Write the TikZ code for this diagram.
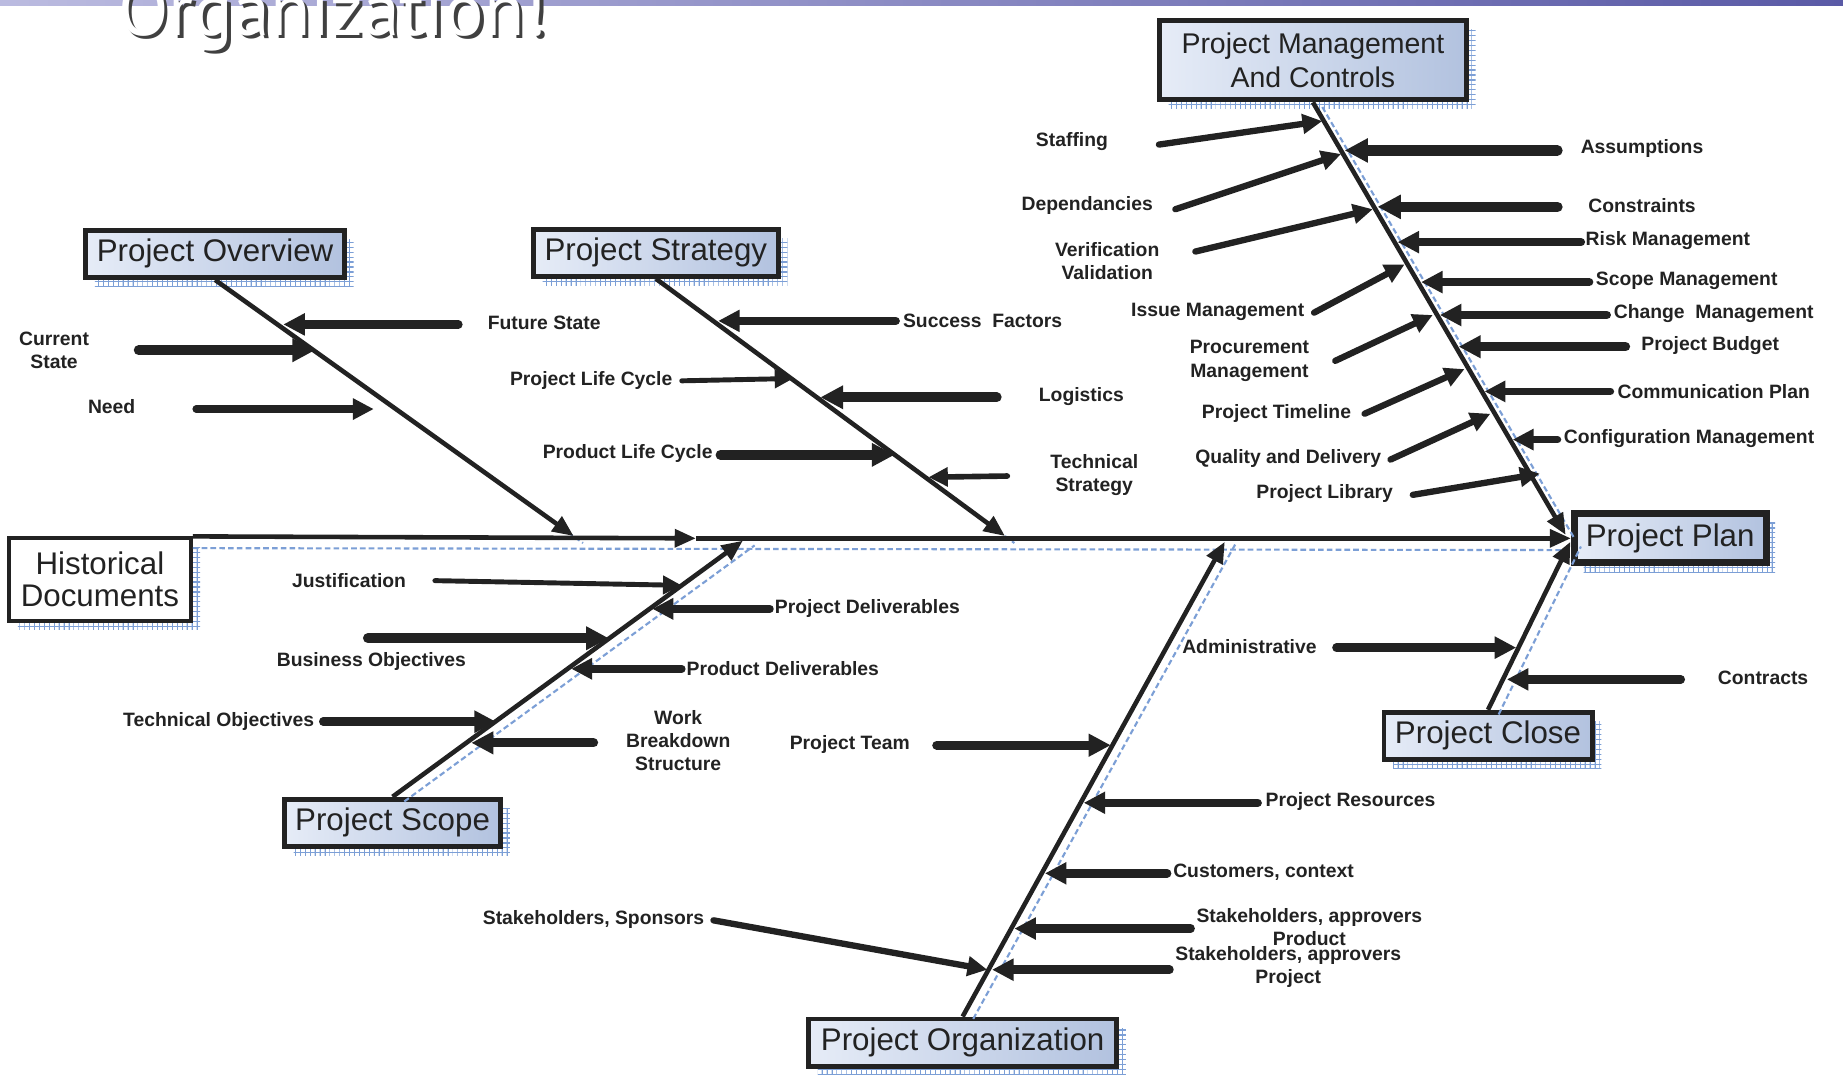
\documentclass[tikz,border=0pt]{standalone}
\usepackage{fontspec}
\setmainfont{Liberation Sans}
\newfontfamily\titlefont{PT Sans}
\usetikzlibrary{arrows.meta,shadows,patterns}

% fine blue grid used for the offset shadows of the category boxes
\pgfdeclarepatternformonly{finegrid}{\pgfqpoint{-0.1pt}{-0.1pt}}{\pgfqpoint{1.5pt}{1.5pt}}{\pgfqpoint{1.4pt}{1.4pt}}{%
  \pgfsetlinewidth{0.35pt}%
  \pgfpathmoveto{\pgfqpoint{0pt}{0pt}}\pgfpathlineto{\pgfqpoint{1.4pt}{0pt}}%
  \pgfpathmoveto{\pgfqpoint{0pt}{0pt}}\pgfpathlineto{\pgfqpoint{0pt}{1.4pt}}%
  \pgfusepath{stroke}}

\definecolor{ink}{HTML}{222222}
\definecolor{boxlight}{HTML}{E6ECF7}
\definecolor{boxdark}{HTML}{B2C2DF}
\definecolor{shadowblue}{HTML}{7C9FD6}
\definecolor{barleft}{HTML}{BBBBE0}
\definecolor{barright}{HTML}{5A5AA6}

% one small cause arrow: tail coordinate, tip coordinate, line width
\newcommand\causearrow[4]{%
  \coordinate (#1a) at (#2);
  \coordinate (#1b) at (#3);
  \draw[arr, line width=#4] (#1a) -- (#1b);}

\tikzset{
  catbase/.style={draw=ink, line width=1.4pt, text=ink, inner sep=0pt, align=center,
    font=\fontsize{8.9pt}{9.4pt}\selectfont,
    drop shadow={shadow xshift=2.6pt, shadow yshift=-2.6pt, pattern=finegrid,
      pattern color=shadowblue, opacity=1}},
  cat/.style={catbase, left color=boxlight, right color=boxdark},
  bone/.style={draw=ink, line width=1.3pt, -{Triangle[length=6pt,width=5pt]}},
  boneshadow/.style={draw=shadowblue, line width=0.6pt, dash pattern=on 1.6pt off 0.9pt},
  arr/.style={draw=ink, line cap=round, -{Triangle[length=4.2pt 0.8, width=3.8pt 0.9]}},
  lbl/.style={text=ink, inner sep=0pt, align=center,
    font=\fontsize{5.5pt}{6.6pt}\selectfont\bfseries},
}

\begin{document}
\begin{tikzpicture}[x=0.011754cm, y=-0.011754cm]
\useasboundingbox (0,0) rectangle (1568,914);
\clip (0,0) rectangle (1568,914);
\fill[white] (0,0) rectangle (1568,914);

% heading strip and the tail of the slide title
\fill[left color=barleft, right color=barright] (0,0) rectangle (1568,5);
\node[anchor=base west, inner sep=0pt, text=black!75,
  font=\titlefont\fontsize{21pt}{21pt}\selectfont] (titleshade) at (103,33) {Organization!};
\node[anchor=base west, inner sep=0pt, text=white,
  font=\titlefont\fontsize{21pt}{21pt}\selectfont] (title) at (100,30) {Organization!};

% category boxes
\node[catbase, fill=white, line width=1.1pt, minimum width=51.8pt, minimum height=23.4pt,
  font=\fontsize{8.9pt}{9.2pt}\selectfont] (hist) at (85,493) {Historical\\Documents};
\node[cat, minimum width=73.6pt, minimum height=13.4pt] (ov) at (183,216) {Project Overview};
\node[cat, minimum width=69.6pt, minimum height=13.4pt] (st) at (558,215) {Project Strategy};
\node[cat, minimum width=87.3pt, minimum height=22.7pt,
  font=\fontsize{8.1pt}{9.7pt}\selectfont] (mg) at (1117,51) {Project Management\\And Controls};
\node[cat, line width=2pt, minimum width=54.5pt, minimum height=14pt] (plan) at (1421,458) {Project Plan};
\node[cat, minimum width=61.5pt, minimum height=13.4pt] (sc) at (334,700) {Project Scope};
\node[cat, minimum width=87.6pt, minimum height=13.4pt] (org) at (819,887) {Project Organization};
\node[cat, minimum width=59.2pt, minimum height=13.4pt] (cl) at (1266,626) {Project Close};

% bone end points
\coordinate (sp1) at (592,458);
\coordinate (ovT) at (488,456);
\coordinate (stT) at (855,456);
\coordinate (scT) at (632,460);
\coordinate (orgT) at (1042,461);
\coordinate (mgT) at (1332,455);
\coordinate (clT) at (1336,461);

% faint blue shadows of the bones
\draw[boneshadow] ([shift={(0,10)}]hist.north east) -- ([shift={(-4,10)}]plan.west);
\draw[boneshadow] ([shift={(8,6)}]ov.south) -- ([shift={(8,6)}]ovT);
\draw[boneshadow] ([shift={(8,6)}]st.south) -- ([shift={(8,6)}]stT);
\draw[boneshadow] ([shift={(10,4)}]sc.north) -- ([shift={(10,4)}]scT);
\draw[boneshadow] ([shift={(9,2)}]org.north) -- ([shift={(9,2)}]orgT);
\draw[boneshadow] ([shift={(8,4)}]mg.south) -- ([shift={(8,4)}]mgT);
\draw[boneshadow] ([shift={(9,4)}]cl.north) -- ([shift={(9,4)}]clT);

% spine and main bones
\draw[bone] (hist.north east) -- (sp1);
\draw[bone] (sp1) -- (plan.west);
\draw[bone] (ov.south) -- (ovT);
\draw[bone] (st.south) -- (stT);
\draw[bone] (sc.north) -- (scT);
\draw[bone] (org.north) -- (orgT);
\draw[bone] (mg.south) -- (mgT);
\draw[bone] (cl.north) -- (clT);

% Project Overview
\node[lbl] (lfs) at (463,275) {Future State};
\node[lbl] (lcs) at (46,298) {Current\\State};
\node[lbl] (lnd) at (95,346) {Need};
\causearrow{fs}{390,276}{241,276}{2.4pt}
\causearrow{cs}{118,298}{268,298}{2.8pt}
\causearrow{nd}{167,348}{318,348}{2.2pt}

% Project Strategy
\node[lbl] (lsf) at (836,273) {Success~~Factors};
\node[lbl] (lplc) at (503,324) {Project Life Cycle};
\node[lbl] (llg) at (920,337) {Logistics};
\node[lbl] (lprlc) at (534,386) {Product Life Cycle};
\node[lbl] (lts) at (931,404) {Technical\\Strategy};
\causearrow{sf}{762,273}{611,273}{2.4pt}
\causearrow{plc}{580,324}{675,322}{1.4pt}
\causearrow{lg}{848,338}{698,338}{2.8pt}
\causearrow{prlc}{613,387}{761,387}{2.8pt}
\causearrow{ts}{857,405}{790,406}{1.6pt}

% Project Scope
\node[lbl] (ljs) at (297,494) {Justification};
\node[lbl] (lpd) at (738,518) {Project Deliverables};
\node[lbl] (lbo) at (316,563) {Business Objectives};
\node[lbl] (lprd) at (666,569) {Product Deliverables};
\node[lbl] (lto) at (186,614) {Technical Objectives};
\node[lbl] (lwbs) at (577,630) {Work\\Breakdown\\Structure};
\causearrow{js}{370,494}{580,498}{1.4pt}
\causearrow{pd}{655,518}{555,518}{2.2pt}
\causearrow{bo}{313,543}{518,543}{2.8pt}
\causearrow{prd}{580,569}{486,569}{2.2pt}
\causearrow{to}{275,614}{422,614}{2.4pt}
\causearrow{wbs}{505,632}{401,632}{2.6pt}

% Project Organization
\node[lbl] (ltm) at (723,633) {Project Team};
\node[lbl] (lres) at (1149,682) {Project Resources};
\node[lbl] (lcus) at (1075,742) {Customers, context};
\node[lbl] (lsap) at (1114,789) {Stakeholders, approvers\\Product};
\node[lbl] (lsaj) at (1096,823) {Stakeholders, approvers\\Project};
\node[lbl] (lsps) at (505,782) {Stakeholders, Sponsors};
\causearrow{tm}{797,634}{945,634}{2.6pt}
\causearrow{res}{1070,683}{922,683}{2.4pt}
\causearrow{cus}{993,743}{889,743}{2.4pt}
\causearrow{sap}{1013,790}{863,790}{2.4pt}
\causearrow{saj}{995,825}{844,825}{2.4pt}
\causearrow{sps}{607,783}{840,825}{1.8pt}

% Project Management And Controls, left side
\node[lbl] (lstf) at (912,120) {Staffing};
\node[lbl] (ldep) at (925,175) {Dependancies};
\node[lbl] (lver) at (942,222) {Verification\\Validation};
\node[lbl] (liss) at (1036,265) {Issue Management};
\node[lbl] (lpro) at (1063,307) {Procurement\\Management};
\node[lbl] (ltim) at (1086,352) {Project Timeline};
\node[lbl] (lqua) at (1096,390) {Quality and Delivery};
\node[lbl] (llib) at (1127,420) {Project Library};
\causearrow{stf}{986,123}{1125,103}{1.8pt}
\causearrow{dep}{1000,178}{1141,131}{1.8pt}
\causearrow{ver}{1017,214}{1168,178}{1.8pt}
\causearrow{iss}{1118,266}{1195,225}{1.8pt}
\causearrow{pro}{1136,307}{1219,268}{1.8pt}
\causearrow{tim}{1161,352}{1246,314}{1.8pt}
\causearrow{qua}{1183,391}{1268,352}{1.8pt}
\causearrow{lib}{1202,421}{1310,403}{1.8pt}

% Project Management And Controls, right side
\node[lbl] (lass) at (1397,126) {Assumptions};
\node[lbl] (lcon) at (1397,175) {Constraints};
\node[lbl] (lrsk) at (1419,205) {Risk Management};
\node[lbl] (lscm) at (1435,239) {Scope Management};
\node[lbl] (lchg) at (1458,267) {Change~~Management};
\node[lbl] (lbud) at (1455,294) {Project Budget};
\node[lbl] (lcom) at (1458,333) {Communication Plan};
\node[lbl] (lcfg) at (1437,373) {Configuration Management};
\causearrow{ass}{1325,128}{1144,128}{3pt}
\causearrow{con}{1325,176}{1172,176}{3pt}
\causearrow{rsk}{1345,206}{1189,206}{2.4pt}
\causearrow{scm}{1352,240}{1209,240}{2.4pt}
\causearrow{chg}{1367,268}{1225,268}{2.4pt}
\causearrow{bud}{1383,295}{1241,295}{2.6pt}
\causearrow{com}{1370,333}{1263,333}{2.2pt}
\causearrow{cfg}{1325,374}{1287,374}{2.2pt}

% Project Close
\node[lbl] (ladm) at (1063,550) {Administrative};
\node[lbl] (lctr) at (1500,577) {Contracts};
\causearrow{adm}{1137,551}{1290,551}{2.4pt}
\causearrow{ctr}{1430,578}{1282,578}{2.4pt}

\end{tikzpicture}
\end{document}
